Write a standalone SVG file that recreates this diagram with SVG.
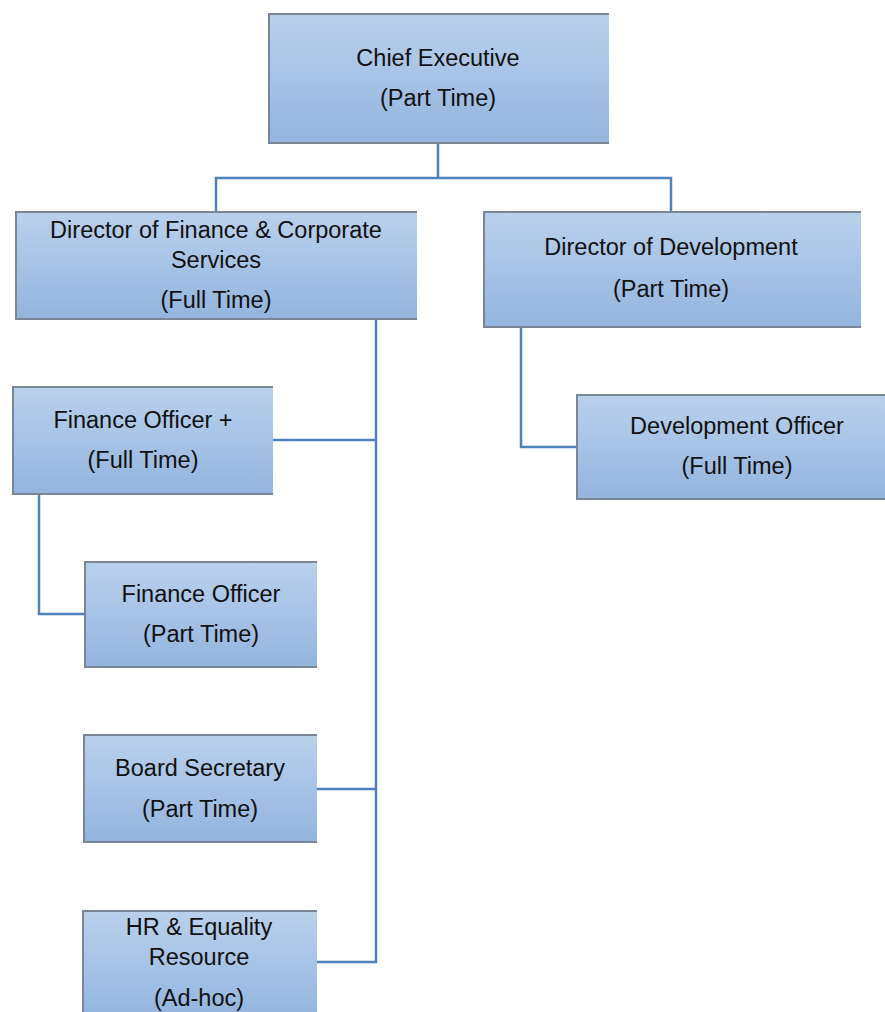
<svg xmlns="http://www.w3.org/2000/svg" width="885" height="1012" viewBox="0 0 885 1012">
  <style>
    .box { fill: url(#boxFill); }
    .edge { fill: none; stroke: #7b8594; stroke-width: 2; }
    .label { font-family: "Liberation Sans", Arial, sans-serif; font-size: 23.5px; fill: #111; text-anchor: middle; }
    .link { fill: none; stroke: #4f81bd; stroke-width: 2.5; }
  </style>
  <defs>
    <linearGradient id="boxFill" x1="0" y1="0" x2="0" y2="1">
      <stop offset="0" stop-color="#bad1ec"/>
      <stop offset="1" stop-color="#93b4de"/>
    </linearGradient>
  </defs>

  <rect width="885" height="1012" fill="#ffffff"/>

  <!-- reporting lines -->
  <g id="connectors">
    <path class="link" d="M438 144 V178 M216 211 V178 H671 V211"/>
    <path class="link" d="M376 320 V962 H317 M273 440 H376 M317 789 H376"/>
    <path class="link" d="M39 495 V614 H85"/>
    <path class="link" d="M521 328 V447 H576"/>
  </g>

  <g id="chief-executive">
    <rect class="box" x="268" y="13" width="341" height="131"/>
    <path class="edge" d="M609 14 H269 V143 H609"/>
    <text class="label" x="438" y="66">Chief Executive</text>
    <text class="label" x="438" y="106">(Part Time)</text>
  </g>

  <g id="director-finance">
    <rect class="box" x="15" y="211" width="402" height="109"/>
    <path class="edge" d="M417 212 H16 V319 H417"/>
    <text class="label" x="216" y="238">Director of Finance &amp; Corporate</text>
    <text class="label" x="216" y="268">Services</text>
    <text class="label" x="216" y="308">(Full Time)</text>
  </g>

  <g id="director-development">
    <rect class="box" x="483" y="211" width="378" height="117"/>
    <path class="edge" d="M861 212 H484 V327 H861"/>
    <text class="label" x="671" y="255">Director of Development</text>
    <text class="label" x="671" y="297">(Part Time)</text>
  </g>

  <g id="finance-officer-plus">
    <rect class="box" x="12" y="386" width="261" height="109"/>
    <path class="edge" d="M273 387 H13 V494 H273"/>
    <text class="label" x="143" y="428">Finance Officer +</text>
    <text class="label" x="143" y="468">(Full Time)</text>
  </g>

  <g id="development-officer">
    <rect class="box" x="576" y="394" width="309" height="106"/>
    <path class="edge" d="M885 395 H577 V499 H885"/>
    <text class="label" x="737" y="434">Development Officer</text>
    <text class="label" x="737" y="474">(Full Time)</text>
  </g>

  <g id="finance-officer">
    <rect class="box" x="84" y="561" width="233" height="107"/>
    <path class="edge" d="M317 562 H85 V667 H317"/>
    <text class="label" x="201" y="602">Finance Officer</text>
    <text class="label" x="201" y="642">(Part Time)</text>
  </g>

  <g id="board-secretary">
    <rect class="box" x="83" y="734" width="234" height="109"/>
    <path class="edge" d="M317 735 H84 V842 H317"/>
    <text class="label" x="200" y="776">Board Secretary</text>
    <text class="label" x="200" y="817">(Part Time)</text>
  </g>

  <g id="hr-equality">
    <rect class="box" x="82" y="910" width="235" height="110"/>
    <path class="edge" d="M317 911 H83 V1020"/>
    <text class="label" x="199" y="935">HR &amp; Equality</text>
    <text class="label" x="199" y="965">Resource</text>
    <text class="label" x="199" y="1006">(Ad-hoc)</text>
  </g>
</svg>
